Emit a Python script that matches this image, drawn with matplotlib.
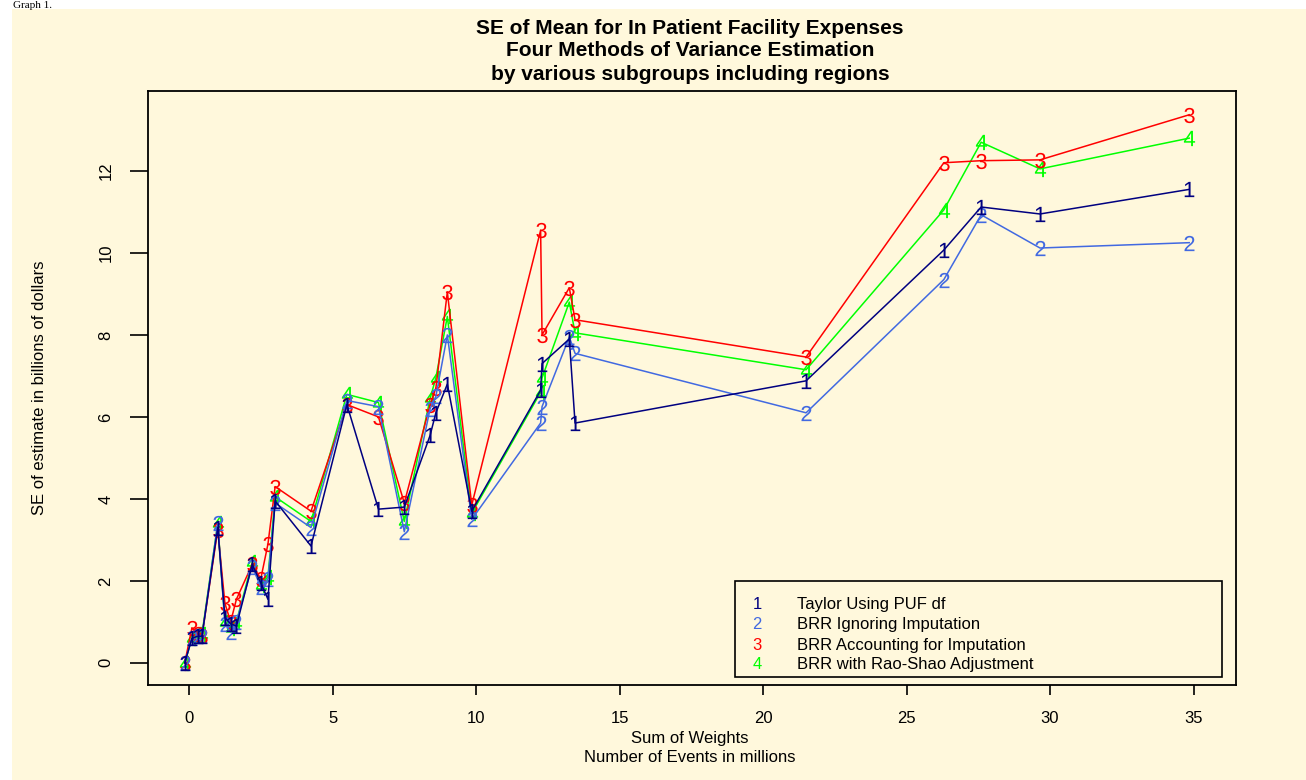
import matplotlib
matplotlib.use('Agg')
import matplotlib.pyplot as plt
from matplotlib.patches import Rectangle
import numpy as np

plt.rcParams['font.family'] = ['Liberation Sans', 'DejaVu Sans']
plt.rcParams['mathtext.fontset'] = 'custom'
plt.rcParams['mathtext.rm'] = 'Liberation Sans'

# sum of weights (millions) for each subgroup
soma_pesos = [-0.15, 0.1, 0.3, 0.45, 1.0, 1.25, 1.45, 1.65, 2.2, 2.5, 2.75, 3.0,
              4.25, 5.5, 6.6, 7.5, 8.4, 8.6, 9.0, 9.85, 12.25, 12.3, 13.25, 13.45,
              21.5, 26.3, 27.6, 29.65, 34.85]

taylor = [0.0, 0.6, 0.65, 0.65, 3.3, 1.1, 0.95, 0.9, 2.4, 1.95, 1.55, 3.95,
          2.85, 6.3, 3.75, 3.8, 5.55, 6.1, 6.8, 3.7, 6.65, 7.3, 7.9, 5.85,
          6.88, 10.07, 11.12, 10.95, 11.55]
brr_ignora = [0.0, 0.6, 0.65, 0.65, 3.4, 0.95, 0.75, 1.0, 2.35, 1.85, 2.05, 3.9,
              3.3, 6.4, 6.25, 3.2, 6.2, 6.5, 8.0, 3.5, 5.85, 6.25, 7.95, 7.55,
              6.1, 9.35, 10.93, 10.12, 10.25]
brr_imput = [0.0, 0.85, 0.7, 0.65, 3.25, 1.45, 1.0, 1.55, 2.4, 2.05, 2.9, 4.3,
             3.7, 6.3, 6.0, 3.9, 6.3, 6.7, 9.05, 3.85, 10.55, 8.0, 9.15, 8.37,
             7.46, 12.2, 12.25, 12.27, 13.37]
brr_raoshao = [0.0, 0.6, 0.7, 0.7, 3.4, 1.0, 0.85, 1.0, 2.45, 1.9, 2.1, 4.05,
               3.45, 6.55, 6.35, 3.45, 6.45, 6.95, 8.45, 3.65, 6.6, 6.95, 8.8, 8.05,
               7.15, 11.05, 12.7, 12.05, 12.8]

metodos = ['Taylor Using PUF df', 'BRR Ignoring Imputation',
           'BRR Accounting for Imputation', 'BRR with Rao-Shao Adjustment']
cores = ['#000080', '#4169E1', '#FF0000', '#00FF00']
series = [taylor, brr_ignora, brr_imput, brr_raoshao]

fundo = '#FFF8DC'
W, H = 1306, 780

fig = plt.figure(figsize=(W / 100, H / 100), dpi=100)
fig.patch.set_facecolor('white')
fig.add_artist(Rectangle((12 / W, 0), 1 - 12 / W, 1 - 9 / H, transform=fig.transFigure,
                         facecolor=fundo, edgecolor='none', zorder=-10))
fig.text(13 / W, 1 - 8 / H, 'Graph 1.', family=['Liberation Serif', 'DejaVu Serif'],
         fontsize=8, ha='left', va='baseline')

ax = fig.add_axes([148 / W, 1 - 685 / H, (1236 - 148) / W, (685 - 91) / H])
ax.set_facecolor(fundo)

ordem = [2, 3, 1, 0]
for i in ordem:
    ax.plot(soma_pesos, series[i], color=cores[i], lw=1.1,
            marker=r'$\mathrm{%d}$' % (i + 1), ms=11, mew=0, zorder=3 + (3 - i))

ax.set_xlim(-1.43, 36.48)
ax.set_ylim(-0.54, 13.95)
ax.set_xticks(np.arange(0, 36, 5))
ax.set_yticks(np.arange(0, 13, 2))
ax.tick_params(axis='x', length=7, width=1.2, pad=12, labelsize=12)
ax.tick_params(axis='y', length=13, width=1.2, pad=12, labelsize=12, labelrotation=90)
for lab in ax.get_yticklabels():
    lab.set_va('center')
for s in ax.spines.values():
    s.set_linewidth(1.3)

# legenda manual, no estilo do R
ax.add_patch(Rectangle((0.5395, 0.0135), 0.987 - 0.5395, 0.175 - 0.0135,
                       transform=ax.transAxes, facecolor=fundo, edgecolor='black',
                       lw=1.2, zorder=10))
ys = [0.136, 0.102, 0.067, 0.034]
for i in range(4):
    ax.text(0.5597, ys[i], str(i + 1), color=cores[i], fontsize=12,
            transform=ax.transAxes, ha='center', va='center', zorder=11)
    ax.text(0.5965, ys[i], metodos[i], color='black', fontsize=12,
            transform=ax.transAxes, ha='left', va='center', zorder=11)

fig.text(690 / W, 1 - 28 / H, 'SE of Mean for In Patient Facility Expenses',
         fontsize=15, weight='bold', ha='center', va='center')
fig.text(690 / W, 1 - 51 / H, 'Four Methods of Variance Estimation',
         fontsize=15, weight='bold', ha='center', va='center')
fig.text(690 / W, 1 - 75 / H, 'by various subgroups including regions',
         fontsize=15, weight='bold', ha='center', va='center')

fig.text(690 / W, 1 - 738 / H, 'Sum of Weights', fontsize=12, ha='center', va='center')
fig.text(690 / W, 1 - 758 / H, 'Number of Events in millions', fontsize=12,
         ha='center', va='center')
fig.text(40 / W, 1 - 388 / H, 'SE of estimate in billions of dollars', fontsize=12,
         rotation=90, ha='center', va='center')

plt.savefig('out.png', dpi=100)
